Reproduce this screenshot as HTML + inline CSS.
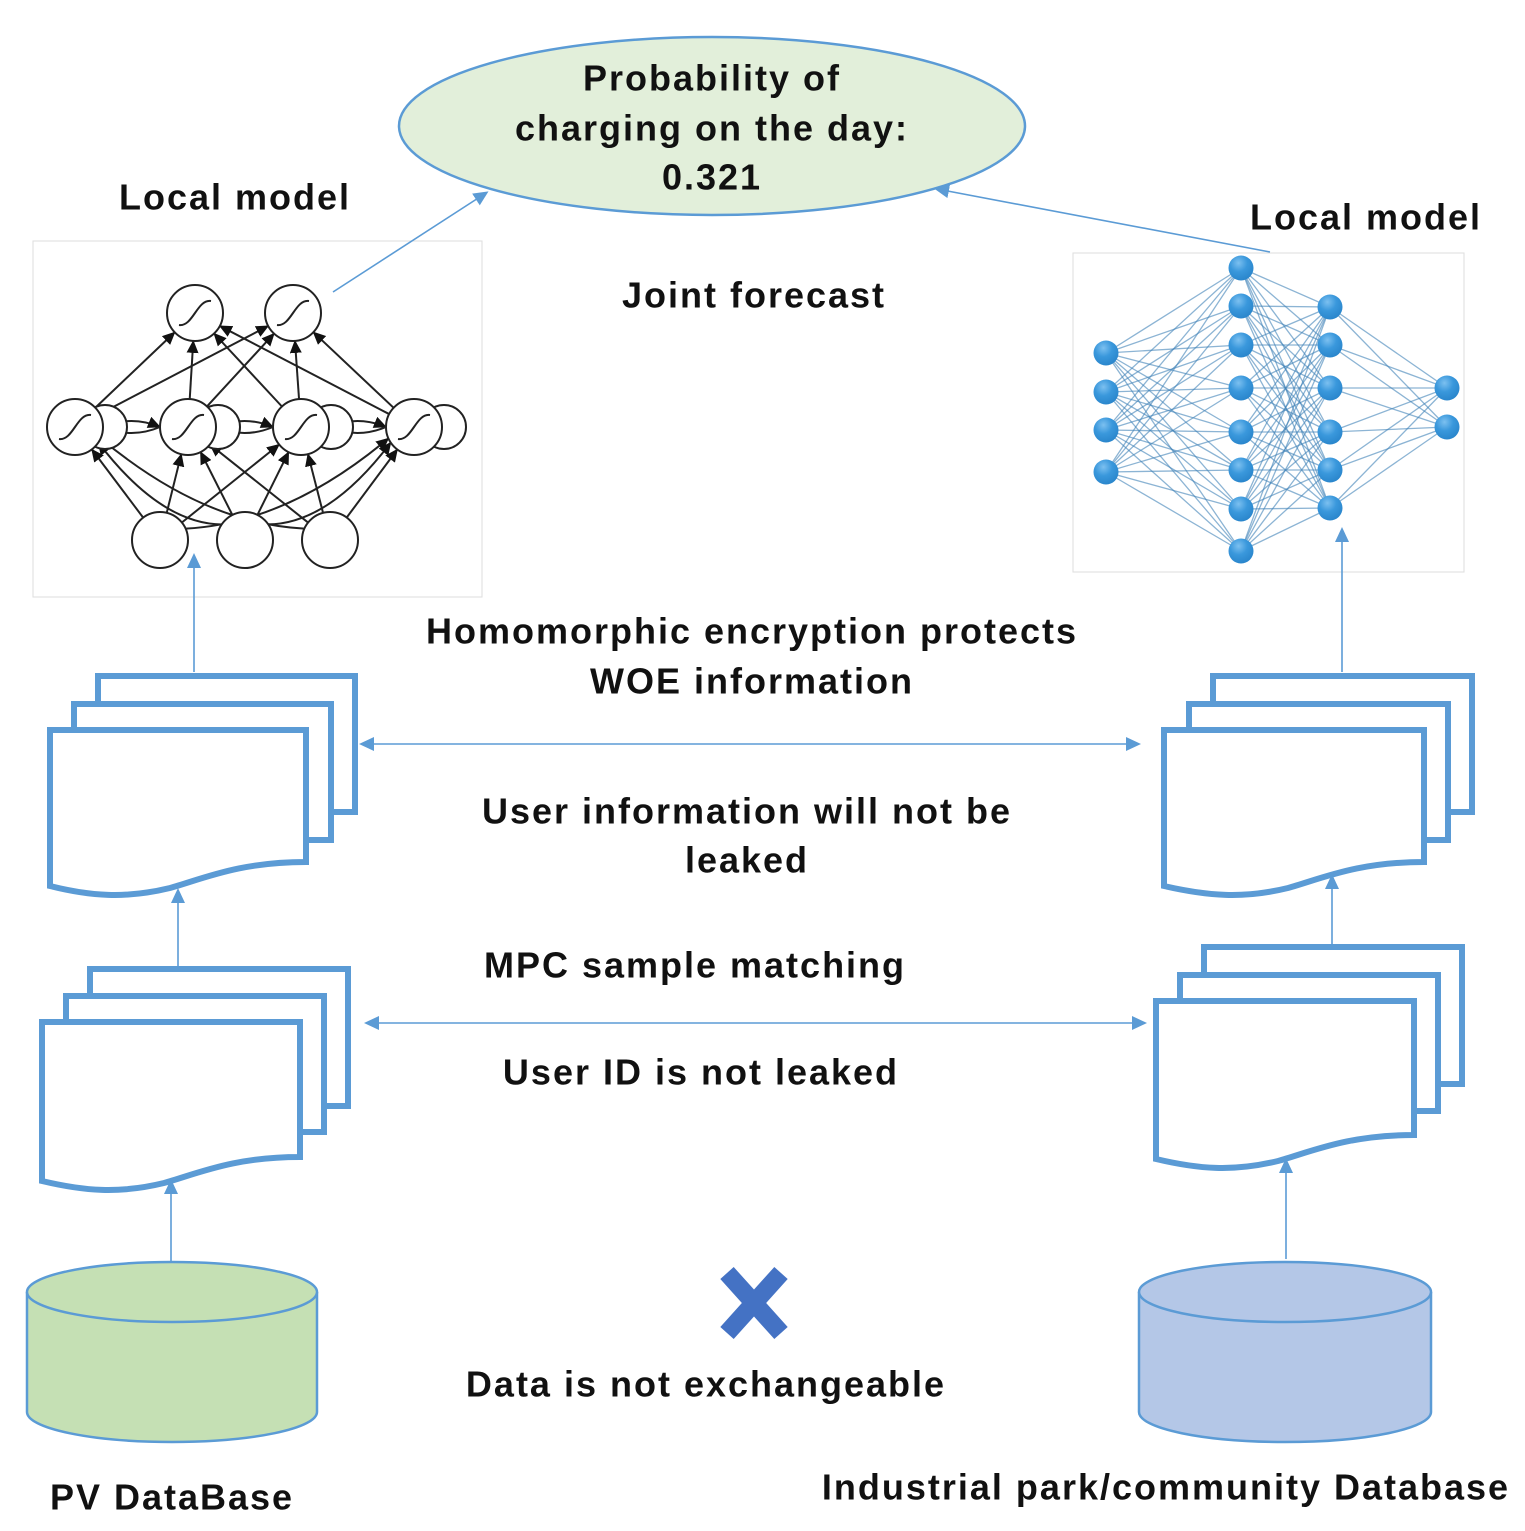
<!DOCTYPE html>
<html><head><meta charset="utf-8"><style>
html,body{margin:0;padding:0;background:#fff;}
svg{display:block}
text{font-family:"Liberation Sans",sans-serif;font-weight:bold;font-size:36px;letter-spacing:2px;fill:#111;text-anchor:middle;dominant-baseline:central}
</style></head><body>
<svg id="s" width="1525" height="1531" viewBox="0 0 1525 1531" xmlns="http://www.w3.org/2000/svg">
<defs>
<marker id="ab" markerWidth="16" markerHeight="14" refX="12" refY="7" orient="auto-start-reverse" markerUnits="userSpaceOnUse"><path d="M0,0 L15,7 L0,14 Z" fill="#5b9bd5"/></marker>
<marker id="ak" markerWidth="14" markerHeight="12" refX="12" refY="6" orient="auto" markerUnits="userSpaceOnUse"><path d="M0,0 L13,6 L0,12 Z" fill="#111"/></marker>
<radialGradient id="bg" cx="0.4" cy="0.3" r="0.7"><stop offset="0" stop-color="#7cc0f0"/><stop offset="0.5" stop-color="#3a98dc"/><stop offset="1" stop-color="#2a86cc"/></radialGradient>
</defs>

<ellipse cx="712" cy="126" rx="313" ry="89" fill="#e2efda" stroke="#5b9bd5" stroke-width="2.5"/>
<text x="712" y="78">Probability of</text>
<text x="712" y="128">charging on the day:</text>
<text x="712" y="177">0.321</text>

<text x="235" y="197">Local model</text>
<text x="1366" y="217">Local model</text>
<text x="754" y="295">Joint forecast</text>
<text x="752" y="631">Homomorphic encryption protects</text>
<text x="752" y="681">WOE information</text>
<text x="747" y="811">User information will not be</text>
<text x="747" y="860">leaked</text>
<text x="695" y="965">MPC sample matching</text>
<text x="701" y="1072">User ID is not leaked</text>
<text x="706" y="1384">Data is not exchangeable</text>
<text x="172" y="1497">PV DataBase</text>
<text x="1166" y="1487">Industrial park/community Database</text>

<rect x="33" y="241" width="449" height="356" fill="none" stroke="#ddd" stroke-width="1"/>
<rect x="1073" y="253" width="391" height="319" fill="none" stroke="#ddd" stroke-width="1"/>

<g id="leftnet" stroke="#222" stroke-width="2" fill="none"></g>
<g id="rightnet"></g>

<g fill="#fff" stroke="#5b9bd5" stroke-width="6">
<rect x="98" y="676" width="257" height="136"/>
<rect x="74" y="704" width="257" height="136"/>
<path d="M50,730 H306 V862 C240,862 205,878 170,888 C125,899 90,896 50,886 Z"/>
<rect x="90" y="969" width="258" height="137"/>
<rect x="66" y="996" width="258" height="136"/>
<path d="M42,1022 H300 V1157 C234,1157 199,1173 164,1183 C119,1194 84,1191 42,1181 Z"/>
<rect x="1213" y="676" width="259" height="136"/>
<rect x="1189" y="704" width="259" height="136"/>
<path d="M1164,730 H1424 V862 C1358,862 1323,878 1288,888 C1243,899 1208,896 1164,886 Z"/>
<rect x="1204" y="947" width="258" height="137"/>
<rect x="1180" y="975" width="258" height="136"/>
<path d="M1156,1001 H1414 V1135 C1348,1135 1313,1151 1278,1161 C1233,1172 1198,1169 1156,1159 Z"/>
</g>

<g stroke="#5b9bd5" stroke-width="2.5">
<path d="M27,1292 V1412 A145,30 0 0 0 317,1412 V1292" fill="#c5e0b4"/>
<ellipse cx="172" cy="1292" rx="145" ry="30" fill="#c5e0b4"/>
<path d="M1139,1292 V1412 A146,30 0 0 0 1431,1412 V1292" fill="#b4c7e7"/>
<ellipse cx="1285" cy="1292" rx="146" ry="30" fill="#b4c7e7"/>
</g>

<g stroke="#4472c4" stroke-width="18" stroke-linecap="butt">
<line x1="727" y1="1273" x2="781" y2="1333"/>
<line x1="781" y1="1273" x2="727" y2="1333"/>
</g>

<g stroke="#5b9bd5" stroke-width="1.6" fill="none">
<line x1="333" y1="292" x2="486" y2="193" marker-end="url(#ab)"/>
<line x1="1270" y1="252" x2="937" y2="189" marker-end="url(#ab)"/>
<line x1="194" y1="672" x2="194" y2="556" marker-end="url(#ab)"/>
<line x1="1342" y1="672" x2="1342" y2="530" marker-end="url(#ab)"/>
<line x1="178" y1="966" x2="178" y2="891" marker-end="url(#ab)"/>
<line x1="1332" y1="945" x2="1332" y2="877" marker-end="url(#ab)"/>
<line x1="171" y1="1261" x2="171" y2="1182" marker-end="url(#ab)"/>
<line x1="1286" y1="1259" x2="1286" y2="1161" marker-end="url(#ab)"/>
<line x1="362" y1="744" x2="1138" y2="744" marker-start="url(#ab)" marker-end="url(#ab)"/>
<line x1="367" y1="1023" x2="1144" y2="1023" marker-start="url(#ab)" marker-end="url(#ab)"/>
</g>
</svg>
<script>
(function(){
var NS="http://www.w3.org/2000/svg";
function el(p,t,a){var e=document.createElementNS(NS,t);for(var k in a)e.setAttribute(k,a[k]);p.appendChild(e);return e;}
var rn=document.getElementById('rightnet');
var L=[[1106,[353,392,430,472]],[1241,[268,306,345,388,432,470,509,551]],[1330,[307,345,388,432,470,508]],[1447,[388,427]]];
for(var i=0;i<3;i++){var a=L[i],b=L[i+1];a[1].forEach(function(y1){b[1].forEach(function(y2){el(rn,'line',{x1:a[0],y1:y1,x2:b[0],y2:y2,stroke:'#3f82b8','stroke-width':1.3,'stroke-opacity':0.6});});});}
L.forEach(function(l){l[1].forEach(function(y){el(rn,'circle',{cx:l[0],cy:y,r:12.5,fill:'url(#bg)'});});});
var g=document.getElementById('leftnet');
var top=[[195,313],[293,313]],mid=[[75,427],[188,427],[301,427],[414,427]],bot=[[160,540],[245,540],[330,540]],r=28;
function arrow(p,q,curve){var dx=q[0]-p[0],dy=q[1]-p[1],d=Math.sqrt(dx*dx+dy*dy);var s=[p[0]+dx/d*r,p[1]+dy/d*r],e=[q[0]-dx/d*r,q[1]-dy/d*r];
if(curve){var mx=(s[0]+e[0])/2,my=(s[1]+e[1])/2+curve;el(g,'path',{d:'M'+s[0]+','+s[1]+' Q'+mx+','+my+' '+e[0]+','+e[1],'marker-end':'url(#ak)'});}
else el(g,'line',{x1:s[0],y1:s[1],x2:e[0],y2:e[1],'marker-end':'url(#ak)'});}
mid.forEach(function(m){top.forEach(function(t){arrow(m,t);});});
bot.forEach(function(b){mid.forEach(function(m,j){arrow(b,m,(Math.abs(b[0]-m[0])>150)?40:0);});});
for(var j=0;j<3;j++){arrow(mid[j],mid[j+1],-12);arrow(mid[j+1],mid[j],12);}
var all=top.concat(mid,bot);
mid.forEach(function(m){el(g,'circle',{cx:m[0]+30,cy:m[1],r:22,fill:'#fff'});});
all.forEach(function(c){el(g,'circle',{cx:c[0],cy:c[1],r:r,fill:'#fff'});});
top.concat(mid).forEach(function(c){el(g,'path',{d:'M'+(c[0]-16)+','+(c[1]+12)+' C'+(c[0]-2)+','+(c[1]+14)+' '+(c[0]+2)+','+(c[1]-14)+' '+(c[0]+16)+','+(c[1]-12)});});
})();
</script>
</body></html>
